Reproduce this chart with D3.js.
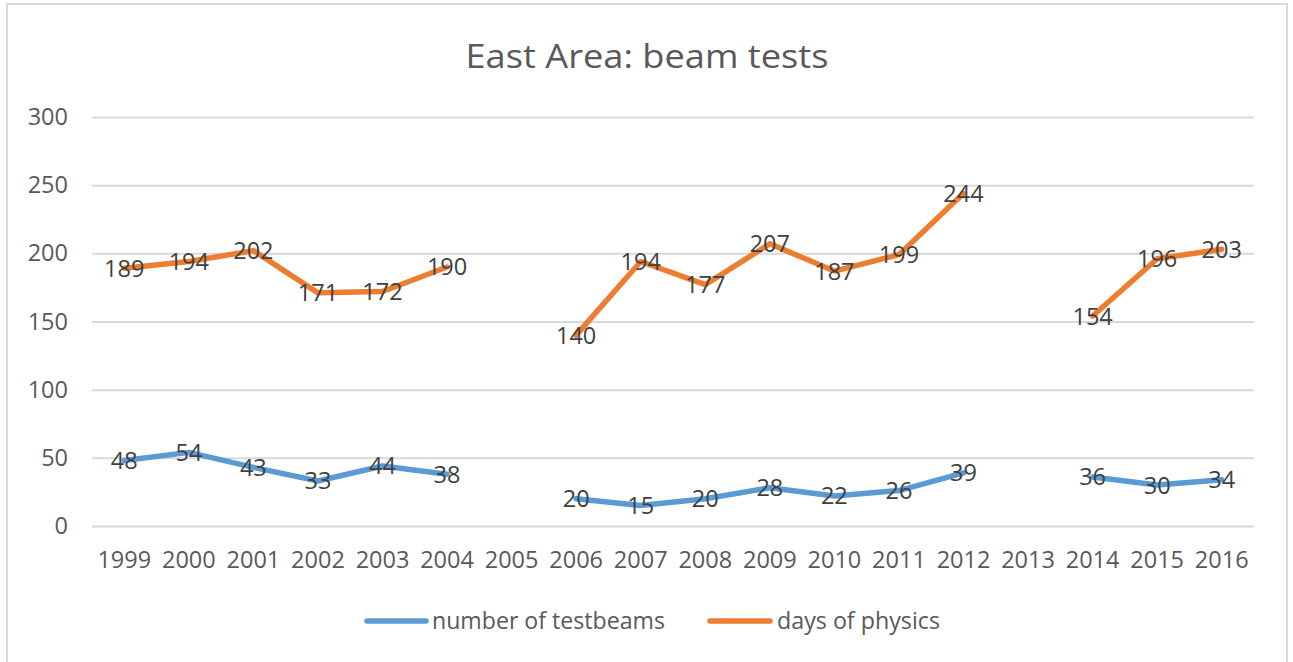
<!DOCTYPE html>
<html><head><meta charset="utf-8">
<script src="https://cdn.jsdelivr.net/npm/d3@7"></script>
<style>body{margin:0;background:#fff;}svg{display:block;}text{font-family:"Open Sans",Lato,sans-serif;}</style>
</head><body>
<svg id="c" width="1293" height="662"></svg>
<script>
const years = ["1999","2000","2001","2002","2003","2004","2005","2006","2007","2008","2009","2010","2011","2012","2013","2014","2015","2016"];
const testbeams = [48,54,43,33,44,38,null,20,15,20,28,22,26,39,null,36,30,34];
const physicsDays = [189,194,202,171,172,190,null,140,194,177,207,187,199,244,null,154,196,203];
const yTicks = [0,50,100,150,200,250,300];
const seriesNames = ["number of testbeams","days of physics"];
const colors = ["#5B9BD5","#ED7D31"];

const svg = d3.select("#c");
svg.append("rect").attr("x",7).attr("y",4).attr("width",1280).attr("height",670).attr("fill","#fff").attr("stroke","#D9D9D9").attr("stroke-width",2);

const x = d3.scaleBand().domain(years).range([92,1254]);
const y = d3.scaleLinear().domain([0,300]).range([526,117]);

svg.append("text").attr("x",647).attr("y",68).attr("text-anchor","middle").attr("font-size",32).attr("fill","#595959")
  .attr("textLength",363).attr("lengthAdjust","spacingAndGlyphs").text("East Area: beam tests");

const fs = 23.5;
const yAxis = d3.axisLeft(y).tickValues(yTicks).tickSize(-(1254-92)).tickPadding(24);
const gy = svg.append("g").attr("transform","translate(92,0)").call(yAxis);
gy.select(".domain").remove();
gy.selectAll("line").attr("stroke","#D9D9D9").attr("stroke-width",2);
gy.selectAll("text").attr("font-size",fs).attr("fill","#595959").style("font-family","'Open Sans',sans-serif");

const xAxis = d3.axisBottom(x).tickSize(0).tickPadding(25);
const gx = svg.append("g").attr("transform","translate(0,526)").call(xAxis);
gx.select(".domain").remove();
gx.selectAll("text").attr("font-size",fs).attr("fill","#595959").style("font-family","'Open Sans',sans-serif");

const series = [testbeams, physicsDays];
const line = d3.line().defined(d=>d.v!=null).x(d=>x(d.k)+x.bandwidth()/2).y(d=>y(d.v));
series.forEach((s,i)=>{
  const data = years.map((k,j)=>({k, v:s[j]}));
  svg.append("path").datum(data).attr("d",line).attr("fill","none").attr("stroke",colors[i]).attr("stroke-width",5.5).attr("stroke-linejoin","round").attr("stroke-linecap","round");
});
series.forEach((s,i)=>{
  const data = years.map((k,j)=>({k, v:s[j]})).filter(d=>d.v!=null);
  svg.append("g").selectAll("text").data(data).join("text")
    .attr("x",d=>x(d.k)+x.bandwidth()/2).attr("y",d=>y(d.v)).attr("dy","0.36em")
    .attr("text-anchor","middle").attr("font-size",fs).attr("fill","#404040").text(d=>d.v);
});

const legend = [{x1:367,x2:426,tx:432,w:233},{x1:710,x2:770,tx:777,w:163}];
seriesNames.forEach((n,i)=>{
  svg.append("line").attr("x1",legend[i].x1).attr("x2",legend[i].x2).attr("y1",621).attr("y2",621).attr("stroke",colors[i]).attr("stroke-width",5.5).attr("stroke-linecap","round");
  svg.append("text").attr("x",legend[i].tx).attr("y",621).attr("dy","0.36em").attr("font-size",23).attr("fill","#595959")
    .attr("textLength",legend[i].w).attr("lengthAdjust","spacingAndGlyphs").text(n);
});
</script>
</body></html>
